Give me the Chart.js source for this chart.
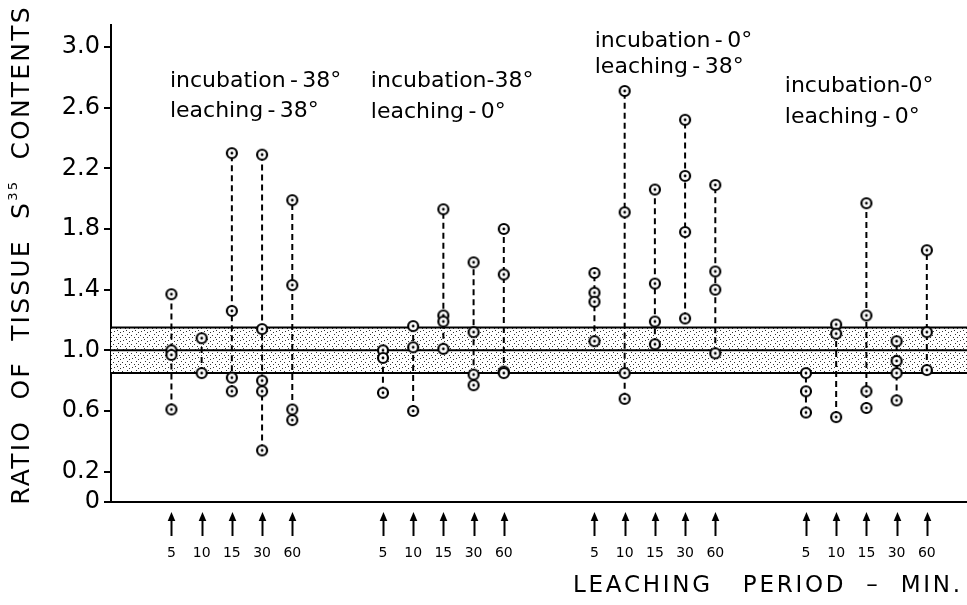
<!DOCTYPE html>
<html>
<head>
<meta charset="utf-8">
<script src="https://cdn.jsdelivr.net/npm/chart.js@4/dist/chart.umd.min.js"></script>
<style>
  html, body { margin: 0; padding: 0; background: #ffffff; }
  #wrap { width: 967px; height: 605px; }
</style>
</head>
<body>
<div id="wrap"><canvas id="c" width="967" height="605"></canvas></div>
<script>
// ---------------- data ----------------
const periodLabels = ['5', '10', '15', '30', '60'];
const groupTitles = [
  ['incubation\u2009-\u200938°', 'leaching\u2009-\u200938°'],
  ['incubation-38°', 'leaching\u2009-\u20090°'],
  ['incubation\u2009-\u20090°', 'leaching\u2009-\u200938°'],
  ['incubation-0°', 'leaching\u2009-\u20090°']
];
// ratio values per leaching period (5, 10, 15, 30, 60 min)
const inc38_leach38 = [[1.37, 1.00, 0.97, 0.61], [1.08, 0.85], [2.30, 1.26, 0.82, 0.73], [2.29, 1.14, 0.80, 0.73, 0.34], [1.99, 1.43, 0.61, 0.54]];
const inc38_leach0  = [[1.00, 0.95, 0.72], [1.16, 1.02, 0.60], [1.93, 1.23, 1.19, 1.01], [1.58, 1.12, 0.84, 0.77], [1.80, 1.50, 0.86, 0.85]];
const inc0_leach38  = [[1.51, 1.38, 1.32, 1.06], [2.71, 1.91, 0.85, 0.68], [2.06, 1.44, 1.19, 1.04], [2.52, 2.15, 1.78, 1.21], [2.09, 1.52, 1.40, 0.98]];
const inc0_leach0   = [[0.85, 0.73, 0.59], [1.17, 1.11, 0.56], [1.97, 1.23, 0.73, 0.62], [1.06, 0.93, 0.85, 0.67], [1.66, 1.12, 0.87]];
const groups = [inc38_leach38, inc38_leach0, inc0_leach38, inc0_leach0];
// normal range band
const bandUpper = 1.15;
const bandMean = 1.0;
const bandLower = 0.85;
const yTickValues = [0, 0.2, 0.6, 1.0, 1.4, 1.8, 2.2, 2.6, 3.0];

// ---------------- layout helpers ----------------
const GROUP_STEP = 7;
const X_MIN = -2.0, X_MAX = 26.33;
const Y_MIN = 0, Y_MAX = 3.145;
const xOf = (g, p) => g * GROUP_STEP + p;
const tickXs = [];
groups.forEach((grp, g) => grp.forEach((col, p) => tickXs.push(xOf(g, p))));

// annotation anchor (data units: left x, baseline y of the two lines)
const titleAnchors = [
  { x: -0.05, y: [2.736, 2.538] },
  { x: 6.6,   y: [2.736, 2.531] },
  { x: 14.01, y: [2.999, 2.828] },
  { x: 20.3,  y: [2.703, 2.498] }
];

// ---------------- point symbol: circle with dot ----------------
function makeSymbol() {
  const c = document.createElement('canvas');
  c.width = 14; c.height = 14;
  const x = c.getContext('2d');
  x.beginPath(); x.arc(7, 7, 5, 0, Math.PI * 2);
  x.fillStyle = '#fff'; x.fill();
  x.lineWidth = 2.2; x.strokeStyle = '#000'; x.stroke();
  x.beginPath(); x.arc(7, 7, 1.4, 0, Math.PI * 2);
  x.fillStyle = '#000'; x.fill();
  return c;
}
function makeStipple() {
  const c = document.createElement('canvas');
  c.width = 9; c.height = 9;
  const x = c.getContext('2d');
  x.fillStyle = '#fff'; x.fillRect(0, 0, 9, 9);
  x.fillStyle = '#333';
  [[1, 1], [5, 2], [8, 4], [3, 4], [0, 6], [6, 7], [3, 8]].forEach(([a, b]) => x.fillRect(a, b, 1, 1));
  return x.createPattern(c, 'repeat');
}
const symbol = makeSymbol();
const stipple = makeStipple();

// ---------------- datasets ----------------
const datasets = [];
const allPoints = [];
groups.forEach((grp, g) => grp.forEach((col, p) => {
  const x = xOf(g, p);
  col.forEach(v => allPoints.push({ x: x, y: v }));
  datasets.push({
    type: 'line',
    data: [{ x: x, y: Math.min(...col) }, { x: x, y: Math.max(...col) }],
    borderColor: '#000', borderWidth: 2, borderDash: [6, 4],
    pointRadius: 0, fill: false, order: 1
  });
}));
datasets.push({
  type: 'scatter', data: allPoints,
  pointStyle: symbol, pointRadius: 7, order: 0, clip: false
});
const bandLine = v => [{ x: X_MIN, y: v }, { x: X_MAX, y: v }];
datasets.push({ type: 'line', data: bandLine(bandUpper), borderColor: '#000', borderWidth: 2, pointRadius: 0, fill: { target: { value: bandLower } }, backgroundColor: stipple, order: 3 });
datasets.push({ type: 'line', data: bandLine(bandMean), borderColor: '#000', borderWidth: 2, pointRadius: 0, fill: false, order: 2 });
datasets.push({ type: 'line', data: bandLine(bandLower), borderColor: '#000', borderWidth: 2, pointRadius: 0, fill: false, order: 2 });

// ---------------- decorations plugin ----------------
function fitText(ctx, text, x, y, width) {
  ctx.letterSpacing = '0px';
  const w0 = ctx.measureText(text).width;
  const n = [...text].length;
  const ls = (width - w0) / Math.max(1, n - 1);
  ctx.letterSpacing = ls + 'px';
  ctx.fillText(text, x, y);
  ctx.letterSpacing = '0px';
}
const deco = {
  id: 'deco',
  afterDraw(chart) {
    const ctx = chart.ctx;
    const xs = chart.scales.x, ys = chart.scales.y;
    const bottom = chart.chartArea.bottom;
    ctx.save();
    ctx.fillStyle = '#000'; ctx.strokeStyle = '#000';
    // arrows above period labels
    tickXs.forEach(v => {
      const px = Math.round(xs.getPixelForValue(v)) + 0.5;
      ctx.lineWidth = 2;
      ctx.beginPath(); ctx.moveTo(px, bottom + 16); ctx.lineTo(px, bottom + 34); ctx.stroke();
      ctx.beginPath(); ctx.moveTo(px, bottom + 10); ctx.lineTo(px - 3.8, bottom + 19); ctx.lineTo(px + 3.8, bottom + 19); ctx.closePath(); ctx.fill();
    });
    // group titles
    ctx.font = '22px "DejaVu Sans"';
    ctx.textAlign = 'left'; ctx.textBaseline = 'alphabetic';
    groupTitles.forEach((lines, g) => {
      const a = titleAnchors[g];
      lines.forEach((t, i) => ctx.fillText(t, xs.getPixelForValue(a.x), ys.getPixelForValue(a.y[i])));
    });
    // x title
    ctx.font = '23px "DejaVu Sans"';
    ctx.textBaseline = 'middle';
    fitText(ctx, 'LEACHING   PERIOD  \u2013  MIN.', 573, 586, 387);
    // y title (rotated)
    ctx.translate(22, 255);
    ctx.rotate(-Math.PI / 2);
    ctx.textBaseline = 'middle';
    const part1 = 'RATIO  OF  TISSUE  S', sup = '35', part2 = '  CONTENTS';
    ctx.font = '25px "DejaVu Sans"';
    const ls = 2.2;
    ctx.letterSpacing = ls + 'px';
    const w1 = ctx.measureText(part1).width, w3 = ctx.measureText(part2).width;
    ctx.font = '13px "DejaVu Sans"';
    const w2 = ctx.measureText(sup).width;
    const total = w1 + w2 + w3;
    let cx = -total / 2;
    ctx.font = '25px "DejaVu Sans"';
    ctx.fillText(part1, cx, 0); cx += w1;
    ctx.font = '13px "DejaVu Sans"';
    ctx.fillText(sup, cx, -8); cx += w2;
    ctx.font = '25px "DejaVu Sans"';
    ctx.fillText(part2, cx, 0);
    ctx.restore();
  }
};

// ---------------- chart ----------------
new Chart(document.getElementById('c'), {
  data: { datasets: datasets },
  options: {
    responsive: false, animation: false, devicePixelRatio: 1,
    layout: { autoPadding: false, padding: { top: 25, right: 0, left: 0, bottom: 0 } },
    plugins: { legend: { display: false }, tooltip: { enabled: false } },
    scales: {
      x: {
        type: 'linear', min: X_MIN, max: X_MAX,
        afterBuildTicks: s => { s.ticks = tickXs.map(v => ({ value: v })); },
        afterFit: s => { s.height = 103; s.paddingLeft = 0; s.paddingRight = 0; },
        grid: { display: true, drawOnChartArea: false, drawTicks: false, color: 'rgba(0,0,0,0)' },
        border: { display: true, color: '#000', width: 2 },
        ticks: {
          autoSkip: false, maxRotation: 0, padding: 43, color: '#000',
          font: { family: 'DejaVu Sans', size: 14 },
          callback: (v, i) => periodLabels[i % periodLabels.length]
        }
      },
      y: {
        type: 'linear', min: Y_MIN, max: Y_MAX,
        afterBuildTicks: s => { s.ticks = yTickValues.map(v => ({ value: v })); },
        afterFit: s => { s.width = 111; },
        grid: { display: true, drawOnChartArea: false, drawTicks: true, tickLength: 7, color: '#000', lineWidth: 2 },
        border: { display: true, color: '#000', width: 2 },
        ticks: {
          padding: 4, color: '#000',
          font: { family: 'DejaVu Sans', size: 24 },
          callback: v => (v === 0 ? '0' : v.toFixed(1))
        }
      }
    }
  },
  plugins: [deco]
});
</script>
</body>
</html>
